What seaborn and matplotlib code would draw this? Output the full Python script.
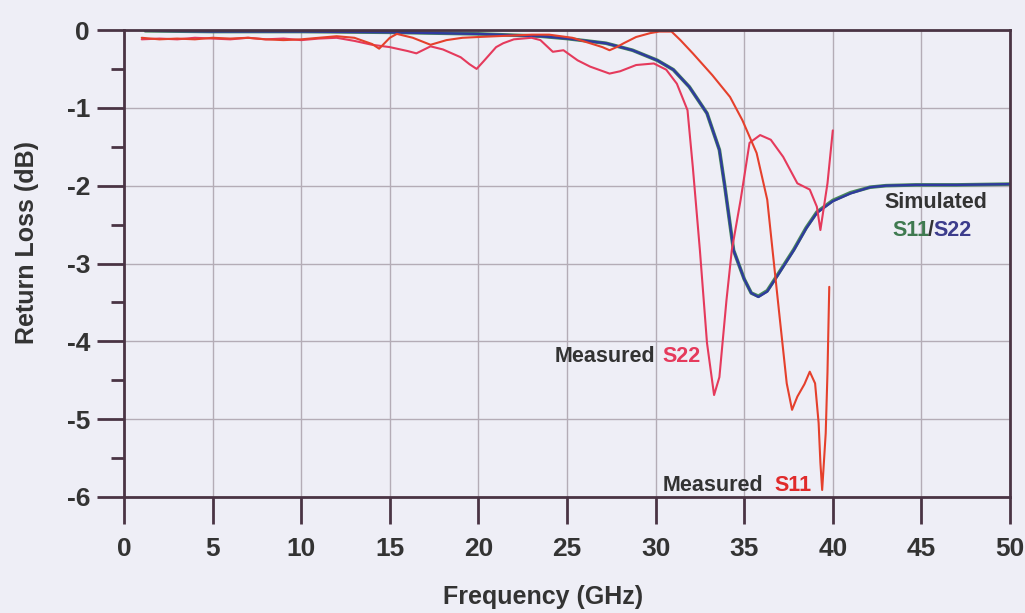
import matplotlib
matplotlib.use("Agg")
import matplotlib.pyplot as plt
import seaborn as sns
from matplotlib.ticker import MultipleLocator

# ---------------- data ----------------
freq_s22 = [1.0, 2, 3, 4, 5, 6, 7, 8, 9, 10, 11, 12, 13, 14, 15, 16, 16.5, 17.3, 18, 19,
            19.5, 19.9, 20.3, 21, 21.4, 22, 23, 23.5, 24.2, 24.8, 25.6, 26.3, 27.4, 28,
            28.9, 29.9, 30.6, 31.2, 31.8, 32.1, 32.5, 32.9, 33.3, 33.6, 34.0, 34.3, 34.8,
            35.3, 35.9, 36.5, 37.2, 38.0, 38.7, 39.1, 39.3, 39.7, 40.0]
s22 = [-0.12, -0.11, -0.12, -0.10, -0.11, -0.12, -0.10, -0.12, -0.11, -0.13, -0.11, -0.10,
       -0.14, -0.19, -0.22, -0.27, -0.30, -0.21, -0.25, -0.35, -0.44, -0.50, -0.40, -0.22,
       -0.17, -0.12, -0.10, -0.13, -0.28, -0.26, -0.39, -0.47, -0.56, -0.53, -0.45, -0.43,
       -0.51, -0.69, -1.03, -1.76, -2.83, -4.02, -4.69, -4.46, -3.47, -2.83, -2.18, -1.45,
       -1.35, -1.41, -1.63, -1.97, -2.05, -2.27, -2.57, -1.97, -1.29]

freq_s11 = [1.0, 2, 3, 4, 5, 6, 7, 8, 9, 10, 11, 12, 13, 14, 14.4, 15, 15.4, 16.3, 17.3,
            18.2, 19.1, 20, 21, 22, 23, 24, 25.3, 26.3, 27.0, 27.4, 27.8, 28.2, 28.9, 29.7,
            30.2, 30.9, 31.4, 32.1, 33.2, 34.2, 34.9, 35.7, 36.3, 36.6, 37.0, 37.4, 37.7,
            38.0, 38.4, 38.7, 39.0, 39.2, 39.3, 39.4, 39.6, 39.7, 39.8]
s11 = [-0.10, -0.12, -0.11, -0.12, -0.10, -0.11, -0.10, -0.12, -0.13, -0.12, -0.10, -0.08,
       -0.10, -0.18, -0.24, -0.10, -0.05, -0.10, -0.19, -0.13, -0.10, -0.09, -0.08, -0.07,
       -0.06, -0.06, -0.10, -0.17, -0.22, -0.26, -0.22, -0.17, -0.09, -0.04, -0.02, -0.02,
       -0.13, -0.30, -0.58, -0.86, -1.16, -1.58, -2.18, -2.83, -3.69, -4.54, -4.88, -4.71,
       -4.55, -4.39, -4.54, -5.05, -5.56, -5.91, -5.18, -4.40, -3.30]

freq_sim = [1.2, 5, 10, 15, 20, 23.5, 25, 27.2, 28.7, 30.1, 31.0, 31.9, 32.9, 33.6, 33.9,
            34.4, 35.0, 35.4, 35.8, 36.3, 36.9, 37.8, 38.5, 39.1, 40.0, 41.0, 42.1, 43.0,
            44.7, 47.0, 50.0]
sim_s22 = [-0.01, -0.02, -0.02, -0.03, -0.05, -0.08, -0.11, -0.17, -0.26, -0.39, -0.51,
           -0.73, -1.07, -1.54, -2.00, -2.83, -3.20, -3.38, -3.43, -3.36, -3.15, -2.83,
           -2.55, -2.35, -2.20, -2.10, -2.02, -2.00, -1.99, -1.99, -1.98]
sim_s11 = [-0.01, -0.02, -0.02, -0.03, -0.05, -0.08, -0.11, -0.17, -0.26, -0.39, -0.51,
           -0.73, -1.07, -1.54, -2.00, -2.83, -3.20, -3.38, -3.42, -3.35, -3.14, -2.82,
           -2.54, -2.34, -2.19, -2.09, -2.02, -2.00, -1.99, -1.99, -1.98]

x_ticks = [0, 5, 10, 15, 20, 25, 30, 35, 40, 45, 50]
y_ticks = [0, -1, -2, -3, -4, -5, -6]
y_tick_labels = ["0", "-1", "-2", "-3", "-4", "-5", "-6"]

# ---------------- style ----------------
sns.set_theme(style="white")
plt.rcParams['font.family'] = ['Liberation Sans', 'DejaVu Sans']
plt.rcParams['font.weight'] = 'bold'

bg = '#eeeef6'
frame = '#4a3444'
c_s11 = '#e5402c'
c_s22 = '#e53a5c'
c_blue = '#2f3a9e'
c_green = '#4a8a5a'
c_dark = '#333333'

PX = 72 / 100  # points per pixel at dpi 100

fig = plt.figure(figsize=(10.25, 6.13), dpi=100, facecolor=bg)
ax = fig.add_axes([124 / 1025, 1 - 497 / 613, (1010 - 124) / 1025, (497 - 30) / 613])
ax.set_facecolor(bg)

sns.lineplot(x=freq_sim, y=sim_s11, color=c_green, lw=2.6, ax=ax, sort=False, estimator=None)
sns.lineplot(x=freq_sim, y=sim_s22, color=c_blue, lw=1.7, ax=ax, sort=False, estimator=None)
sns.lineplot(x=freq_s22, y=s22, color=c_s22, lw=1.5, ax=ax, sort=False, estimator=None)
sns.lineplot(x=freq_s11, y=s11, color=c_s11, lw=1.5, ax=ax, sort=False, estimator=None)

ax.set_xlim(0, 50)
ax.set_ylim(-6, 0)
ax.set_xticks(x_ticks)
ax.set_xticklabels([str(t) for t in x_ticks])
ax.set_yticks(y_ticks)
ax.set_yticklabels(y_tick_labels)
ax.yaxis.set_minor_locator(MultipleLocator(0.5))

ax.grid(True, which='major', color='#b4acb6', lw=1.0)
for s in ax.spines.values():
    s.set_color(frame)
    s.set_linewidth(2)

ax.tick_params(axis='x', which='major', direction='out', length=27 * PX, width=2,
               color=frame, labelsize=19, pad=13 * PX, labelcolor=c_dark, bottom=True)
ax.tick_params(axis='y', which='major', direction='out', length=27 * PX, width=2,
               color=frame, labelsize=19, pad=7 * PX, labelcolor=c_dark, left=True)
ax.tick_params(axis='y', which='minor', direction='out', length=13 * PX, width=2,
               color=frame, left=True)
for lab in ax.get_xticklabels() + ax.get_yticklabels():
    lab.set_fontweight('bold')

ax.set_xlabel("Frequency (GHz)", fontsize=18, fontweight='bold', color=c_dark, va='center')
ax.set_ylabel("Return Loss (dB)", fontsize=18, fontweight='bold', color=c_dark, va='center')
ax.xaxis.set_label_coords((543 - 124) / 886, (497 - 597) / 467)
ax.yaxis.set_label_coords((27 - 124) / 886, (497 - 242) / 467)

# annotations
fs = 15.5
ax.text(45.8, -2.22, "Simulated", fontsize=fs, fontweight='bold', color=c_dark,
        ha='center', va='center')
ax.text(45.45, -2.57, "S11", fontsize=fs, fontweight='bold', color='#3f7a50', ha='right', va='center')
ax.text(45.55, -2.57, "/", fontsize=fs, fontweight='bold', color=c_dark, ha='center', va='center')
ax.text(45.68, -2.57, "S22", fontsize=fs, fontweight='bold', color='#3c3c8c', ha='left', va='center')

ax.text(29.97, -4.2, "Measured", fontsize=fs, fontweight='bold', color=c_dark, ha='right', va='center')
ax.text(30.4, -4.2, "S22", fontsize=fs, fontweight='bold', color=c_s22, ha='left', va='center')

ax.text(36.06, -5.85, "Measured", fontsize=fs, fontweight='bold', color=c_dark, ha='right', va='center')
ax.text(36.7, -5.85, "S11", fontsize=fs, fontweight='bold', color='#e02a2a', ha='left', va='center')

fig.savefig("out.png", dpi=100, facecolor=bg)
